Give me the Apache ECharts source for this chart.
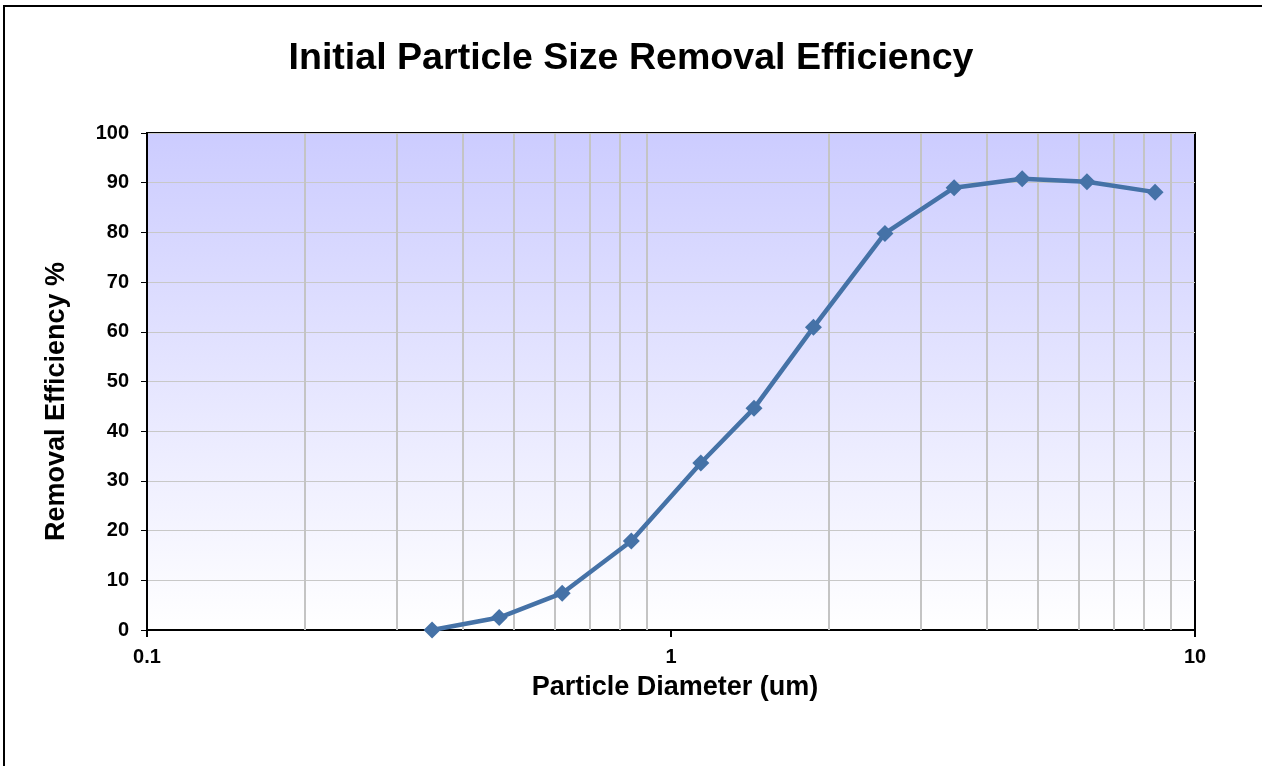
<!DOCTYPE html>
<html>
<head>
<meta charset="utf-8">
<script src="https://cdn.jsdelivr.net/npm/echarts@6/dist/echarts.min.js"></script>
<style>html,body{margin:0;padding:0;background:#fff}#c{width:1262px;height:766px}</style>
</head>
<body>
<div id="c"></div>
<script>
var diameters = [0.35, 0.47, 0.62, 0.84, 1.14, 1.44, 1.87, 2.56, 3.47, 4.68, 6.22, 8.39];
var efficiency = [0.0, 2.5, 7.4, 17.9, 33.6, 44.6, 60.9, 79.8, 89.0, 90.8, 90.2, 88.1];
var minorGridValues = [0.2, 0.3, 0.4, 0.5, 0.6, 0.7, 0.8, 0.9, 2, 3, 4, 5, 6, 7, 8, 9];
var yTicks = [0, 10, 20, 30, 40, 50, 60, 70, 80, 90, 100];

var chart = echarts.init(document.getElementById('c'));
var font = '"Liberation Sans", Arial, sans-serif';
chart.setOption({
  animation: false,
  backgroundColor: '#ffffff',
  graphic: [{
    type: 'rect', silent: true, z: -10,
    shape: { x: 4, y: 6, width: 1400, height: 900 },
    style: { fill: 'none', stroke: '#000', lineWidth: 2 }
  }],
  title: {
    text: 'Initial Particle Size Removal Efficiency',
    left: 'center', top: 35,
    textStyle: { fontFamily: font, fontWeight: 'bold', fontSize: 37.6, color: '#000' }
  },
  grid: {
    left: 147, right: 67, top: 133, bottom: 136,
    show: true, borderColor: '#000', borderWidth: 2,
    backgroundColor: {
      type: 'linear', x: 0, y: 0, x2: 0, y2: 1,
      colorStops: [{ offset: 0, color: '#CCCCFF' }, { offset: 1, color: '#FFFFFF' }]
    }
  },
  xAxis: {
    type: 'log', logBase: 10, min: 0.1, max: 10,
    name: 'Particle Diameter (um)', nameLocation: 'middle', nameGap: 44,
    nameTextStyle: { fontFamily: font, fontWeight: 'bold', fontSize: 27, color: '#000', padding: [0, 0, 0, 8] },
    axisLine: { show: true, lineStyle: { color: '#000', width: 2 } },
    axisTick: { show: true, length: 7, lineStyle: { color: '#000', width: 2 } },
    axisLabel: { fontFamily: font, fontWeight: 'bold', fontSize: 20, color: '#000', margin: 17,
      formatter: function (v) { return String(+v.toPrecision(3)); } },
    splitLine: { show: false },
    minorTick: { show: false }, minorSplitLine: { show: false }
  },
  yAxis: {
    type: 'value', min: 0, max: 100, interval: 10,
    name: 'Removal Efficiency %', nameLocation: 'middle', nameGap: 77,
    nameTextStyle: { fontFamily: font, fontWeight: 'bold', fontSize: 27, color: '#000', padding: [0, 40, 0, 0] },
    axisLine: { show: true, lineStyle: { color: '#000', width: 2 } },
    axisTick: { show: true, length: 6, lineStyle: { color: '#000', width: 1 } },
    axisLabel: { fontFamily: font, fontWeight: 'bold', fontSize: 20, color: '#000', margin: 18,
      formatter: function (v) { return yTicks.indexOf(v) >= 0 ? String(v) : ''; } },
    splitLine: { show: true, lineStyle: { color: '#C8C8C8', width: 1 } }
  },
  series: [{
    type: 'line',
    data: diameters.map(function (d, i) { return [d, efficiency[i]]; }),
    symbol: 'diamond', symbolSize: 17,
    lineStyle: { color: '#4572A7', width: 4.5 },
    itemStyle: { color: '#4572A7' },
    z: 5,
    markLine: {
      silent: true, symbol: 'none', animation: false,
      label: { show: false },
      lineStyle: { color: '#C4C4C4', width: 2, type: 'solid' },
      data: minorGridValues.map(function (v) { return { xAxis: v }; }),
      z: 1
    }
  }]
});
</script>
</body>
</html>
